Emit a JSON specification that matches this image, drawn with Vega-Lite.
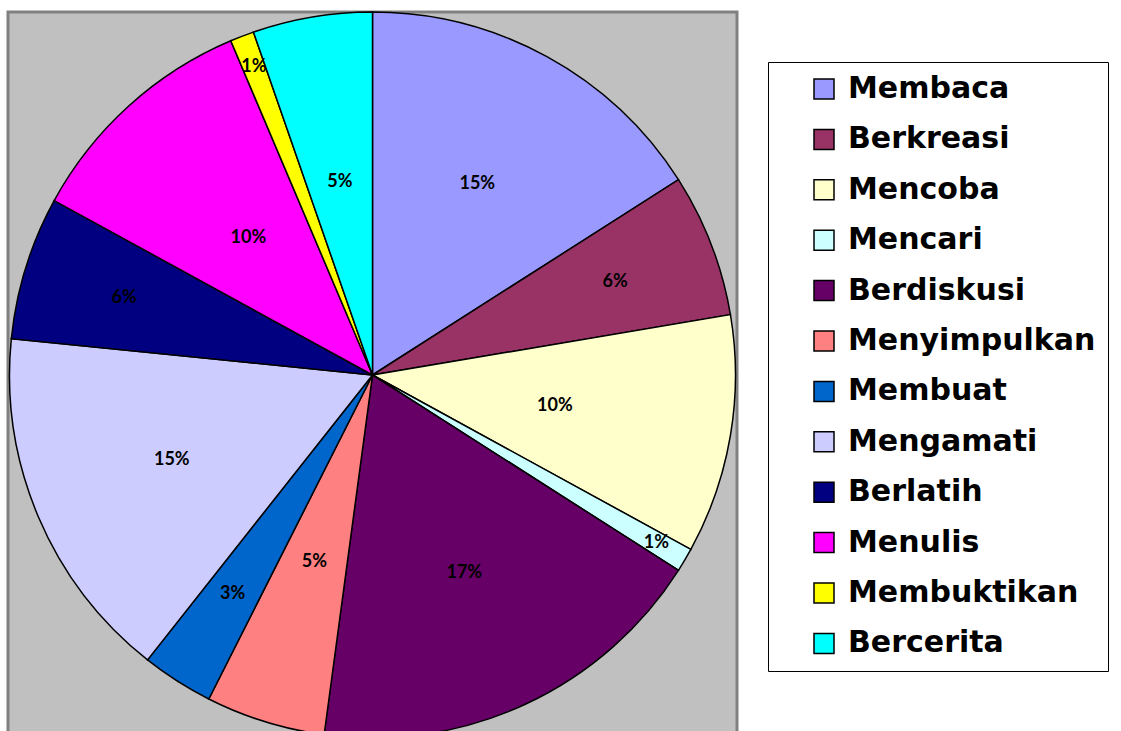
{
  "$schema": "https://vega.github.io/schema/vega-lite/v6.json",
  "width": 729,
  "height": 726,
  "autosize": {"type": "none"},
  "padding": {"left": 8, "top": 12, "right": 384, "bottom": 0},
  "background": "white",
  "view": {"fill": "#C0C0C0", "stroke": "#808080", "strokeWidth": 3},
  "data": {
    "values": [
      {"i": 1, "activity": "Membaca", "value": 15},
      {"i": 2, "activity": "Berkreasi", "value": 6},
      {"i": 3, "activity": "Mencoba", "value": 10},
      {"i": 4, "activity": "Mencari", "value": 1},
      {"i": 5, "activity": "Berdiskusi", "value": 17},
      {"i": 6, "activity": "Menyimpulkan", "value": 5},
      {"i": 7, "activity": "Membuat", "value": 3},
      {"i": 8, "activity": "Mengamati", "value": 15},
      {"i": 9, "activity": "Berlatih", "value": 6},
      {"i": 10, "activity": "Menulis", "value": 10},
      {"i": 11, "activity": "Membuktikan", "value": 1},
      {"i": 12, "activity": "Bercerita", "value": 5}
    ]
  },
  "encoding": {
    "theta": {"field": "value", "type": "quantitative", "stack": true},
    "order": {"field": "i", "type": "quantitative"}
  },
  "layer": [
    {
      "mark": {"type": "arc", "outerRadius": 363, "stroke": "black", "strokeWidth": 1.5},
      "encoding": {
        "color": {
          "field": "activity",
          "type": "nominal",
          "sort": null,
          "scale": {
            "domain": ["Membaca", "Berkreasi", "Mencoba", "Mencari", "Berdiskusi", "Menyimpulkan", "Membuat", "Mengamati", "Berlatih", "Menulis", "Membuktikan", "Bercerita"],
            "range": ["#9999FF", "#993366", "#FFFFCC", "#CCFFFF", "#660066", "#FF8080", "#0066CC", "#CCCCFF", "#000080", "#FF00FF", "#FFFF00", "#00FFFF"]
          },
          "legend": {
            "orient": "none",
            "legendX": 760,
            "legendY": 50,
            "title": null,
            "symbolType": "square",
            "symbolSize": 400,
            "symbolStrokeColor": "black",
            "symbolStrokeWidth": 1.5,
            "symbolOpacity": 1,
            "labelFont": "DejaVu Sans",
            "labelFontSize": 30,
            "labelFontWeight": "bold",
            "labelColor": "black",
            "labelLimit": 0,
            "rowPadding": 20.4,
            "padding": 12,
            "strokeColor": "black",
            "fillColor": "white",
            "symbolOffset": 29,
            "labelOffset": 9
          }
        }
      }
    },
    {
      "mark": {"type": "text", "radius": 218, "font": "Lato", "fontSize": 18, "fontWeight": "bold", "color": "black", "text": {"expr": "datum.value + '%'"}},
      "encoding": {"opacity": {"condition": {"test": "datum.value >= 15", "value": 1}, "value": 0}}
    },
    {
      "mark": {"type": "text", "radius": 185, "font": "Lato", "fontSize": 18, "fontWeight": "bold", "color": "black", "text": {"expr": "datum.value + '%'"}},
      "encoding": {"opacity": {"condition": {"test": "datum.value == 10", "value": 1}, "value": 0}}
    },
    {
      "mark": {"type": "text", "radius": 196, "font": "Lato", "fontSize": 18, "fontWeight": "bold", "color": "black", "text": {"expr": "datum.value + '%'"}},
      "encoding": {"opacity": {"condition": {"test": "datum.value == 5", "value": 1}, "value": 0}}
    },
    {
      "mark": {"type": "text", "radius": 260, "font": "Lato", "fontSize": 18, "fontWeight": "bold", "color": "black", "text": {"expr": "datum.value + '%'"}},
      "encoding": {"opacity": {"condition": {"test": "datum.value == 3 || datum.value == 6", "value": 1}, "value": 0}}
    },
    {
      "mark": {"type": "text", "radius": 330, "font": "Lato", "fontSize": 18, "fontWeight": "bold", "color": "black", "text": {"expr": "datum.value + '%'"}},
      "encoding": {"opacity": {"condition": {"test": "datum.value <= 1", "value": 1}, "value": 0}}
    }
  ]
}
